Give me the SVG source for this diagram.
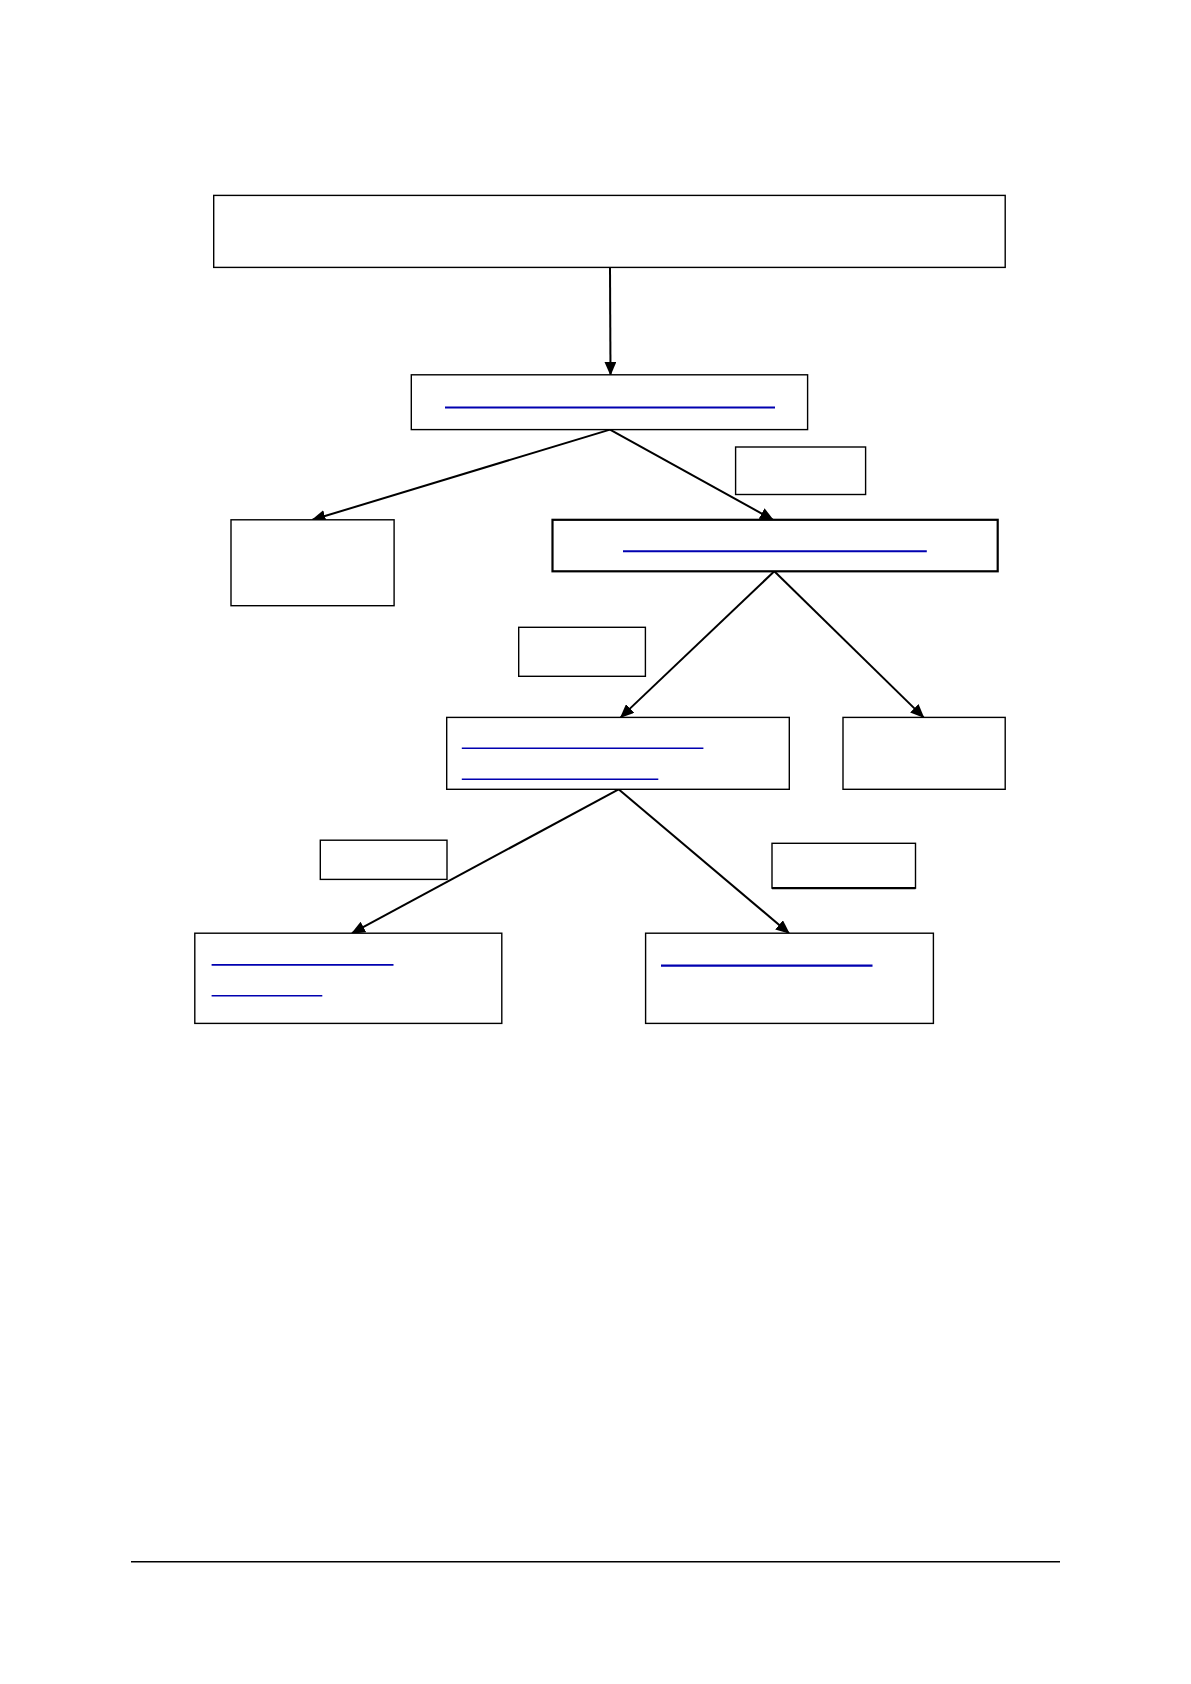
<svg xmlns="http://www.w3.org/2000/svg" width="1191" height="1684" viewBox="0 0 1191 1684">
<style>
.box{fill:#fff;stroke:#000;stroke-width:1.4}
.thick{stroke-width:2.2}
.link{stroke:#0000b0;stroke-width:1.6}
.conn{stroke:#000;stroke-width:2;fill:none}
</style>
<defs>
<marker id="ah" markerWidth="14" markerHeight="12" refX="13" refY="6" orient="auto" markerUnits="userSpaceOnUse">
<path d="M0,0 L14,6 L0,12 Z" fill="#000"/>
</marker>
</defs>
<rect width="1191" height="1684" fill="#fff"/>
<g id="connectors">
<line class="conn" x1="610" y1="267.4" x2="610.5" y2="374.8" marker-end="url(#ah)"/>
<line class="conn" x1="610" y1="429.6" x2="312.5" y2="519.8" marker-end="url(#ah)"/>
<line class="conn" x1="610" y1="429.6" x2="773" y2="519.8" marker-end="url(#ah)"/>
<line class="conn" x1="774.3" y1="571.3" x2="620.7" y2="717.4" marker-end="url(#ah)"/>
<line class="conn" x1="774.3" y1="571.3" x2="923.6" y2="717.4" marker-end="url(#ah)"/>
<line class="conn" x1="618.6" y1="789.3" x2="352" y2="933.2" marker-end="url(#ah)"/>
<line class="conn" x1="618.6" y1="789.3" x2="789" y2="933.2" marker-end="url(#ah)"/>
</g>
<g id="node-top"><rect class="box" x="213.7" y="195.4" width="791.5" height="72"/></g>
<g id="node-2"><rect class="box" x="411.3" y="374.8" width="396.3" height="54.8"/>
<line class="link" x1="445" y1="407.5" x2="775" y2="407.5" style="stroke-width:2"/></g>
<g id="label-1"><rect class="box" x="735.6" y="447" width="130" height="47.5"/></g>
<g id="node-left"><rect class="box" x="231" y="519.8" width="163.1" height="85.9"/></g>
<g id="node-3"><rect class="box thick" x="552.5" y="519.8" width="445.2" height="51.5"/>
<line class="link" x1="623" y1="551.3" x2="926.8" y2="551.3" style="stroke-width:2"/></g>
<g id="label-2"><rect class="box" x="518.7" y="627.3" width="126.7" height="49"/></g>
<g id="node-4"><rect class="box" x="446.7" y="717.4" width="342.6" height="71.9"/>
<line class="link" x1="461.8" y1="748.2" x2="703.4" y2="748.2"/>
<line class="link" x1="461.8" y1="779.2" x2="658.3" y2="779.2"/></g>
<g id="node-right"><rect class="box" x="843" y="717.4" width="162.2" height="71.9"/></g>
<g id="label-3"><rect class="box" x="320.3" y="840.2" width="126.7" height="39.2"/></g>
<g id="label-4"><rect class="box" x="772" y="843.3" width="143.5" height="44.8"/>
<line x1="772" y1="888.1" x2="915.5" y2="888.1" stroke="#000" stroke-width="2.4"/></g>
<g id="node-5"><rect class="box" x="194.8" y="933.2" width="307" height="90.2"/>
<line class="link" x1="211.6" y1="964.9" x2="393.5" y2="964.9"/>
<line class="link" x1="211.6" y1="995.8" x2="322.3" y2="995.8"/></g>
<g id="node-6"><rect class="box" x="645.6" y="933.2" width="287.8" height="90.2"/>
<line class="link" x1="661" y1="965.6" x2="872.5" y2="965.6" style="stroke-width:2.4"/></g>
<line x1="131" y1="1561.8" x2="1060" y2="1561.8" stroke="#000" stroke-width="1.5"/>
</svg>
